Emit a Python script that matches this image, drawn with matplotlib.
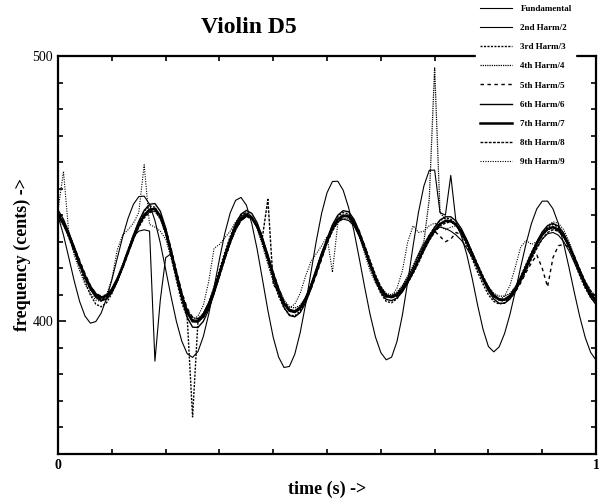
import numpy as np
import matplotlib
matplotlib.use('Agg')
from matplotlib import pyplot as plt

plt.rcParams['font.family'] = ['Liberation Serif', 'DejaVu Serif']

# time axis, one value every 10 ms
t = np.linspace(0, 1, 101)

# pitch tracks in cents
fund = [439.6, 432.5, 423.9, 415.2, 407.5, 402.0, 399.3, 399.9, 403.1, 408.6,
        415.7, 423.8, 431.8, 438.8, 444.1, 447.0, 447.2, 444.1, 438.0, 429.5,
        419.5, 409.3, 399.9, 392.5, 387.8, 386.4, 388.6, 394.3, 402.7, 412.9,
        423.5, 433.2, 440.9, 445.6, 446.7, 443.8, 436.9, 427.2, 415.7, 404.1,
        393.9, 386.5, 382.6, 383.0, 387.6, 395.7, 406.3, 418.4, 430.3, 440.8,
        448.5, 452.7, 452.8, 449.4, 442.9, 434.0, 423.6, 412.8, 402.6, 394.1,
        388.2, 385.5, 386.5, 392.4, 402.3, 414.9, 428.5, 441.1, 451.0, 456.9,
        457.0, 441.0, 440.0, 455.0, 437.0, 432.0, 425.0, 416.0, 406.0, 397.0,
        390.5, 388.5, 390.4, 395.4, 402.6, 411.3, 420.5, 429.3, 436.9, 442.4,
        445.3, 445.3, 442.4, 436.8, 429.1, 420.1, 410.6, 401.6, 393.9, 388.3,
        385.4]
harm2 = [440.0, 437.5, 433.0, 428.0, 422.5, 417.0, 412.5, 409.5, 408.0, 408.5,
         411.0, 415.0, 420.5, 426.5, 432.0, 434.0, 434.5, 434.0, 385.0, 408.0,
         424.0, 425.5, 417.0, 409.0, 403.0, 400.5, 400.5, 403.0, 407.0, 412.5,
         418.5, 425.0, 431.0, 436.0, 439.5, 440.5, 439.5, 436.0, 430.0, 423.5,
         417.0, 411.0, 406.5, 404.5, 404.0, 405.5, 409.0, 414.0, 420.0, 426.0,
         431.0, 435.0, 437.5, 438.5, 438.0, 436.0, 432.0, 427.0, 421.0, 416.0,
         412.0, 410.0, 409.5, 410.5, 413.0, 416.5, 420.5, 425.0, 429.0, 432.5,
         434.5, 435.5, 435.0, 434.0, 432.5, 430.5, 427.5, 424.0, 420.0, 416.0,
         412.5, 410.0, 408.5, 408.0, 409.0, 411.5, 415.0, 419.5, 424.0, 428.0,
         431.0, 433.0, 433.5, 432.5, 430.0, 426.5, 422.0, 417.5, 413.0, 409.5,
         407.5]
harm3 = [441.0, 437.0, 431.5, 426.0, 420.5, 415.0, 410.0, 406.5, 405.5, 407.0,
         410.5, 415.0, 421.0, 427.0, 432.5, 437.5, 441.5, 443.5, 443.0, 439.5,
         433.0, 424.5, 415.5, 407.0, 401.5, 364.0, 400.0, 402.5, 407.0, 413.0,
         419.5, 426.0, 432.0, 437.0, 440.0, 441.0, 439.5, 435.5, 429.5, 422.5,
         415.5, 409.5, 405.0, 402.5, 402.0, 404.0, 408.0, 413.5, 419.5, 425.5,
         431.0, 436.0, 439.5, 441.0, 440.5, 437.5, 432.5, 426.5, 420.5, 415.0,
         410.5, 407.5, 407.0, 408.5, 411.5, 415.0, 419.5, 424.0, 428.5, 432.5,
         435.5, 438.0, 439.0, 438.5, 436.5, 433.0, 428.5, 423.5, 418.5, 414.0,
         410.0, 407.5, 406.5, 407.0, 409.0, 412.5, 417.0, 421.5, 426.0, 430.0,
         433.0, 435.5, 436.5, 435.5, 432.5, 428.0, 422.5, 417.0, 412.5, 409.0,
         406.5]
harm4 = [439.0, 436.0, 432.0, 427.0, 421.5, 416.5, 412.5, 409.5, 408.5, 409.5,
         412.5, 416.5, 421.5, 427.0, 432.0, 436.5, 440.0, 441.5, 441.5, 438.5,
         433.0, 425.5, 417.5, 410.0, 404.5, 401.5, 401.0, 403.0, 407.0, 412.0,
         418.0, 424.0, 429.5, 434.5, 438.0, 439.5, 438.5, 435.5, 430.5, 424.5,
         418.0, 412.5, 408.0, 405.5, 405.0, 406.0, 409.0, 413.5, 419.0, 424.5,
         430.0, 434.5, 437.5, 439.0, 438.5, 436.5, 432.5, 427.5, 422.0, 417.0,
         413.0, 410.5, 410.0, 411.0, 413.5, 417.0, 421.0, 425.5, 430.0, 446.0,
         495.5, 441.0, 438.5, 437.5, 436.0, 433.0, 429.5, 425.0, 420.5, 416.5,
         413.0, 410.5, 409.5, 409.5, 410.5, 413.0, 416.5, 421.0, 425.5, 429.5,
         432.5, 434.5, 435.0, 434.0, 431.5, 428.0, 423.5, 419.0, 415.0, 411.5,
         409.5]
harm5 = [440.5, 437.5, 433.0, 428.0, 423.0, 418.0, 413.5, 410.5, 409.5, 410.0,
         412.0, 415.5, 420.0, 425.5, 431.0, 436.0, 439.5, 441.5, 442.0, 440.0,
         435.0, 427.5, 419.0, 411.0, 405.0, 401.5, 401.0, 402.5, 406.0, 411.0,
         417.0, 423.5, 429.5, 434.5, 438.0, 439.5, 439.0, 436.0, 431.0, 425.0,
         418.5, 412.5, 407.5, 404.5, 403.5, 404.5, 407.5, 412.0, 417.5, 423.5,
         429.5, 434.5, 438.0, 440.0, 440.0, 438.0, 434.0, 428.5, 422.5, 417.0,
         412.5, 410.0, 409.0, 409.5, 411.5, 414.5, 418.5, 422.5, 427.0, 431.0,
         434.0, 432.0, 430.0, 431.0, 433.5, 432.5, 429.5, 425.5, 421.0, 416.5,
         412.5, 409.5, 408.0, 407.5, 408.5, 411.0, 414.5, 418.5, 422.0, 425.0,
         420.0, 413.0, 424.0, 428.5, 429.0, 428.0, 424.5, 419.5, 414.5, 410.5,
         408.0]
harm6 = [441.9, 438.4, 433.5, 427.9, 422.0, 416.6, 412.1, 409.0, 407.7, 408.4,
         410.9, 415.1, 420.5, 426.5, 432.5, 437.7, 441.8, 444.1, 444.4, 441.5,
         435.2, 426.6, 417.3, 408.4, 401.5, 397.8, 397.7, 400.0, 404.4, 410.5,
         417.4, 424.6, 431.2, 436.7, 440.4, 441.8, 440.7, 437.2, 431.5, 424.6,
         417.3, 410.6, 405.3, 402.2, 401.7, 403.3, 406.9, 412.2, 418.4, 425.0,
         431.1, 436.4, 440.0, 441.7, 441.3, 438.5, 433.8, 427.9, 421.6, 415.7,
         411.0, 408.3, 407.8, 408.8, 411.1, 414.5, 418.6, 423.2, 427.8, 432.0,
         435.5, 438.2, 439.4, 439.4, 437.8, 434.8, 430.6, 425.6, 420.6, 415.6,
         411.4, 408.4, 406.8, 406.8, 408.4, 411.4, 415.6, 420.5, 425.4, 430.0,
         433.7, 436.1, 436.9, 435.9, 433.2, 429.0, 423.9, 418.5, 413.3, 409.1,
         406.5]
harm7 = [440.1, 436.9, 432.5, 427.4, 422.0, 417.1, 413.0, 410.2, 409.0, 409.6,
         411.9, 415.7, 420.6, 426.1, 431.5, 436.3, 440.0, 442.1, 442.4, 439.7,
         434.0, 426.2, 417.7, 409.6, 403.4, 400.0, 399.9, 402.0, 406.0, 411.5,
         417.8, 424.4, 430.4, 435.4, 438.7, 440.0, 439.0, 435.8, 430.6, 424.4,
         417.7, 411.6, 406.8, 404.0, 403.5, 405.0, 408.3, 413.1, 418.7, 424.7,
         430.3, 435.1, 438.4, 439.9, 439.5, 437.0, 432.7, 427.4, 421.6, 416.3,
         412.0, 409.5, 409.1, 410.0, 412.1, 415.2, 418.9, 423.1, 427.3, 431.1,
         434.3, 436.7, 437.8, 437.8, 436.4, 433.6, 429.8, 425.3, 420.7, 416.2,
         412.4, 409.6, 408.2, 408.2, 409.6, 412.4, 416.2, 420.6, 425.1, 429.3,
         432.6, 434.8, 435.5, 434.6, 432.2, 428.4, 423.7, 418.8, 414.1, 410.3,
         407.9]
harm8 = [439.5, 436.5, 432.0, 426.5, 421.0, 416.0, 412.0, 409.5, 408.5, 409.0,
         411.5, 415.5, 420.5, 426.0, 431.0, 435.5, 439.0, 441.0, 441.5, 439.0,
         433.5, 426.5, 418.5, 410.5, 404.0, 400.5, 400.0, 401.5, 405.0, 410.5,
         417.0, 423.5, 429.5, 434.5, 438.0, 439.5, 439.0, 436.5, 432.0, 446.0,
         414.0, 411.0, 407.0, 404.5, 404.0, 405.0, 408.0, 412.5, 418.0, 424.0,
         429.5, 434.0, 437.5, 439.5, 439.5, 437.5, 433.5, 428.5, 423.0, 417.5,
         413.0, 410.0, 409.0, 409.5, 411.5, 414.5, 418.0, 422.0, 426.5, 430.5,
         433.5, 436.0, 437.0, 437.5, 436.5, 434.0, 430.5, 426.0, 421.5, 417.0,
         413.0, 410.0, 408.5, 408.0, 409.0, 411.5, 415.0, 419.0, 423.5, 427.5,
         431.0, 433.5, 434.5, 434.0, 432.0, 428.5, 424.0, 419.5, 415.0, 411.5,
         409.0]
harm9 = [442.0, 456.5, 433.0, 425.0, 419.0, 414.0, 410.5, 408.0, 407.5, 410.0,
         416.0, 427.0, 432.5, 434.5, 437.0, 441.0, 459.0, 436.5, 435.5, 434.0,
         431.0, 424.0, 416.0, 408.5, 403.0, 400.5, 402.0, 406.0, 415.0, 427.5,
         429.0, 431.5, 434.0, 437.5, 440.0, 441.0, 439.0, 435.0, 428.5, 421.5,
         415.0, 410.0, 406.5, 405.0, 406.5, 410.5, 417.0, 422.5, 425.5, 428.5,
         432.0, 418.5, 437.0, 439.5, 440.0, 437.5, 432.0, 425.5, 419.0, 414.5,
         411.5, 409.0, 409.5, 412.5, 419.0, 430.0, 436.0, 433.5, 434.0, 436.0,
         437.0, 436.0, 434.5, 435.5, 436.0, 433.5, 429.5, 424.5, 419.5, 415.0,
         411.5, 409.0, 408.0, 409.5, 413.5, 420.5, 428.0, 430.5, 429.0, 430.0,
         433.5, 436.0, 437.5, 437.0, 434.5, 430.0, 424.5, 418.5, 413.0, 409.0,
         406.5]

labels = ['Fundamental', '2nd Harm/2', '3rd Harm/3', '4th Harm/4', '5th Harm/5',
          '6th Harm/6', '7th Harm/7', '8th Harm/8', '9th Harm/9']
tracks = [fund, harm2, harm3, harm4, harm5, harm6, harm7, harm8, harm9]
# (linewidth, dash pattern) per track
styles = [(0.8, None), (0.8, None), (1.0, (1.5, 1.0)), (0.9, (1.0, 0.8)),
          (1.0, (2.5, 2.5)), (1.0, None), (1.8, None), (1.0, (2.0, 1.0)),
          (0.8, (1.0, 1.2))]

fig = plt.figure(figsize=(5.99, 5.0), dpi=100)
ax = fig.add_axes([0.097, 0.092, 0.898, 0.796])

for y, lab, (lw, dash) in zip(tracks, labels, styles):
    line, = ax.plot(t, y, color='black', lw=lw, label=lab)
    if dash is not None:
        line.set_dashes(dash)

ax.set_xlim(0, 1)
ax.set_ylim(350, 500)
ax.set_xticks([0, 1])
ax.set_xticks(np.arange(0, 1.01, 0.1), minor=True)
ax.set_yticks([400, 500])
ax.set_yticks(np.arange(350, 501, 10), minor=True)
ax.set_xticklabels(['0', '1'], fontweight='bold')
ax.tick_params(which='both', direction='in', top=True, right=True, width=1.2)
ax.tick_params(which='major', length=6, labelsize=10)
ax.tick_params(which='minor', length=3.5)
for s in ax.spines.values():
    s.set_linewidth(1.6)

ax.set_xlabel('time (s) ->', fontsize=13, fontweight='bold', labelpad=6)
ax.set_ylabel('frequency (cents) ->', fontsize=13, fontweight='bold', labelpad=1)
fig.text(0.415, 0.945, 'Violin D5', fontsize=17, fontweight='bold',
         ha='center', va='center')

leg = fig.legend(loc='upper left', bbox_to_anchor=(0.795, 0.998), fontsize=6.5,
                 handlelength=3.6, handletextpad=0.9, labelspacing=1.2,
                 borderpad=0.4, borderaxespad=0, fancybox=False,
                 edgecolor='white', facecolor='white', framealpha=1)
for txt in leg.get_texts():
    txt.set_fontweight('bold')

plt.savefig('out.png', dpi=100)
